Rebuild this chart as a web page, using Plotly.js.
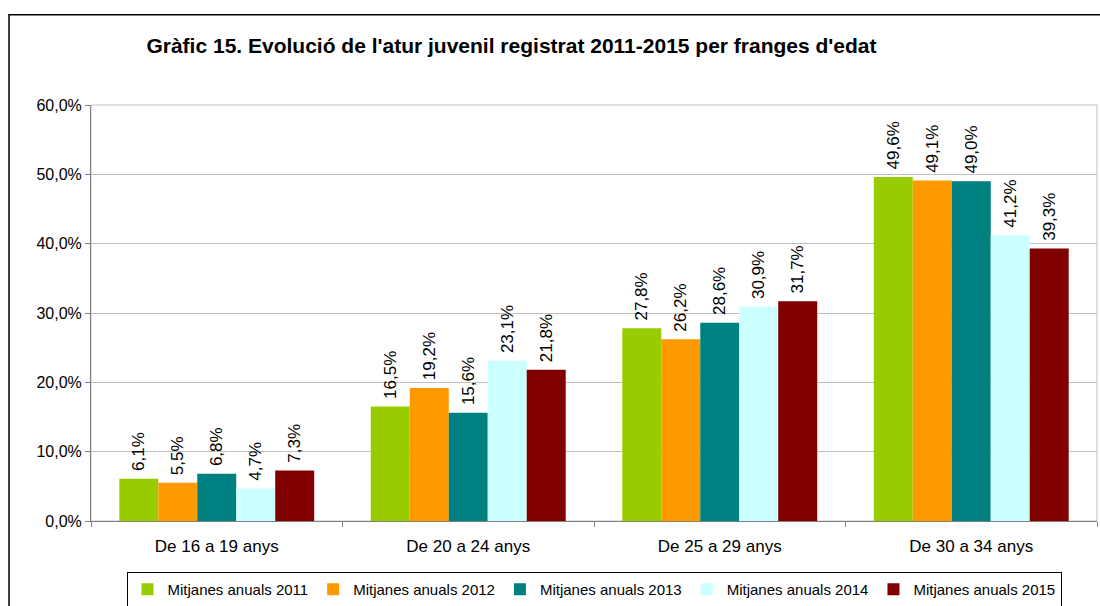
<!DOCTYPE html>
<html>
<head>
<meta charset="utf-8">
<script src="https://cdn.plot.ly/plotly-3.0.1.min.js"></script>
<style>html,body{margin:0;padding:0;background:#fff;}#chart{width:1100px;height:606px;}</style>
</head>
<body>
<div id="chart"></div>
<script>
const categories = ["De 16 a 19 anys", "De 20 a 24 anys", "De 25 a 29 anys", "De 30 a 34 anys"];
const seriesNames = ["Mitjanes anuals 2011", "Mitjanes anuals 2012", "Mitjanes anuals 2013", "Mitjanes anuals 2014", "Mitjanes anuals 2015"];
const values2011 = [6.1, 16.5, 27.8, 49.6];
const values2012 = [5.5, 19.2, 26.2, 49.1];
const values2013 = [6.8, 15.6, 28.6, 49.0];
const values2014 = [4.7, 23.1, 30.9, 41.2];
const values2015 = [7.3, 21.8, 31.7, 39.3];
const colors = ["#99CC00", "#FF9900", "#008080", "#CCFFFF", "#800000"];
const titleText = "Gràfic 15. Evolució de l'atur juvenil registrat 2011-2015 per franges d'edat";

const allValues = [values2011, values2012, values2013, values2014, values2015];
const FONT = "Liberation Sans, Arial, sans-serif";

const traces = allValues.map((vals, i) => ({
  type: "bar",
  name: seriesNames[i],
  x: categories,
  y: vals,
  marker: {color: colors[i], line: {width: 0}},
  texttemplate: "\u00a0%{y:.1f}%",
  textposition: "outside",
  textangle: -90,
  constraintext: "none",
  cliponaxis: false,
  textfont: {family: FONT, size: 17, color: "#000"},
  hoverinfo: "skip"
}));

const layout = {
  width: 1100,
  height: 606,
  margin: {l: 91, r: 3, t: 104.5, b: 85, autoexpand: false},
  paper_bgcolor: "#fff",
  plot_bgcolor: "#fff",
  separators: ",.",
  font: {family: FONT, size: 16, color: "#000"},
  title: {
    text: "<b>" + titleText + "</b>",
    font: {family: FONT, size: 21, color: "#000"},
    x: 0.465, xref: "container", xanchor: "center",
    y: 0.924, yref: "container", yanchor: "middle"
  },
  barmode: "group",
  bargap: 0.225,
  bargroupgap: 0,
  showlegend: true,
  legend: {
    orientation: "h",
    x: 0.5, xanchor: "center",
    y: -0.1225, yanchor: "top",
    bordercolor: "#000", borderwidth: 1,
    font: {family: FONT, size: 15, color: "#000"},
    itemclick: false, itemdoubleclick: false,
    tracegroupgap: 0
  },
  xaxis: {
    type: "category",
    showline: true, linecolor: "#808080", linewidth: 1,
    ticks: "outside", ticklen: 5, tickcolor: "#808080",
    tickson: "boundaries",
    ticklabelstandoff: 10,
    showgrid: false,
    tickfont: {family: FONT, size: 17, color: "#000"},
    fixedrange: true
  },
  yaxis: {
    range: [0, 60],
    tick0: 0, dtick: 10,
    tickformat: ".1f", ticksuffix: "%",
    showline: true, linecolor: "#808080", linewidth: 1,
    ticks: "outside", ticklen: 5, tickcolor: "#808080",
    showgrid: true, gridcolor: "#c0c0c0", gridwidth: 1,
    zeroline: false,
    tickfont: {family: FONT, size: 16, color: "#000"},
    fixedrange: true
  },
  shapes: [
    {type: "rect", xref: "paper", yref: "paper", x0: 0, x1: 1, y0: 0, y1: 1,
     line: {color: "#c0c0c0", width: 1}, layer: "below"},
    {type: "rect", xref: "paper", yref: "paper", x0: -0.0815, x1: 1.006, y0: -0.22, y1: 1.217,
     line: {color: "#000", width: 1.5}, fillcolor: "rgba(0,0,0,0)"}
  ]
};

Plotly.newPlot("chart", traces, layout, {displayModeBar: false, staticPlot: true});
</script>
</body>
</html>
